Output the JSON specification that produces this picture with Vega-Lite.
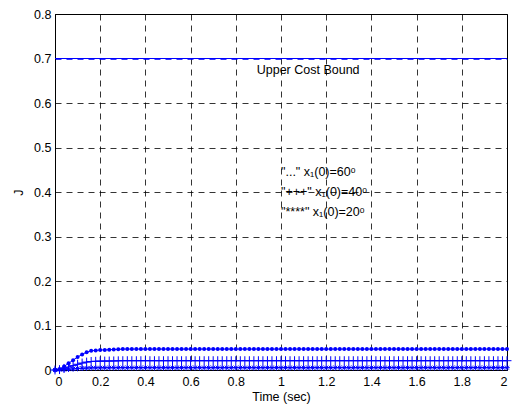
{
"$schema":"https://vega.github.io/schema/vega-lite/v6.json",
"width":452,"height":356,"autosize":"none",
"padding":{"left":55,"top":14,"right":5,"bottom":39},
"background":"white",
"config":{"view":{"stroke":"black","strokeWidth":1},
"axis":{"grid":true,"gridColor":"black","gridDash":[6,5],"gridOpacity":1,"gridWidth":0.8,"domainColor":"black","ticks":false,"labelFont":"Liberation Sans","labelFontSize":12.5,"labelColor":"black","titleFont":"Liberation Sans","titleFontSize":12.5,"titleFontWeight":"normal","titleColor":"black"}},
"datasets":{
"runs":[
{"t":0,"a":0,"b":0,"c":0},
{"t":0.02,"a":0.002,"b":0.0009,"c":0.0002},
{"t":0.04,"a":0.008,"b":0.0036,"c":0.0009},
{"t":0.06,"a":0.015,"b":0.0067,"c":0.0017},
{"t":0.08,"a":0.022,"b":0.0098,"c":0.0024},
{"t":0.1,"a":0.029,"b":0.0129,"c":0.0032},
{"t":0.12,"a":0.035,"b":0.0156,"c":0.0039},
{"t":0.14,"a":0.04,"b":0.0178,"c":0.0044},
{"t":0.16,"a":0.043,"b":0.0191,"c":0.0048},
{"t":0.18,"a":0.044,"b":0.0196,"c":0.0049},
{"t":0.2,"a":0.045,"b":0.02,"c":0.005},
{"t":0.22,"a":0.0452,"b":0.0201,"c":0.005},
{"t":0.24,"a":0.0455,"b":0.0202,"c":0.0051},
{"t":0.26,"a":0.046,"b":0.0204,"c":0.0051},
{"t":0.28,"a":0.0465,"b":0.0207,"c":0.0052},
{"t":0.3,"a":0.047,"b":0.0209,"c":0.0052},
{"t":0.32,"a":0.047,"b":0.0209,"c":0.0052},
{"t":0.34,"a":0.047,"b":0.0209,"c":0.0052},
{"t":0.36,"a":0.047,"b":0.0209,"c":0.0052},
{"t":0.38,"a":0.047,"b":0.0209,"c":0.0052},
{"t":0.4,"a":0.047,"b":0.0209,"c":0.0052},
{"t":0.42,"a":0.047,"b":0.0209,"c":0.0052},
{"t":0.44,"a":0.047,"b":0.0209,"c":0.0052},
{"t":0.46,"a":0.047,"b":0.0209,"c":0.0052},
{"t":0.48,"a":0.047,"b":0.0209,"c":0.0052},
{"t":0.5,"a":0.047,"b":0.0209,"c":0.0052},
{"t":0.52,"a":0.047,"b":0.0209,"c":0.0052},
{"t":0.54,"a":0.047,"b":0.0209,"c":0.0052},
{"t":0.56,"a":0.047,"b":0.0209,"c":0.0052},
{"t":0.58,"a":0.047,"b":0.0209,"c":0.0052},
{"t":0.6,"a":0.047,"b":0.0209,"c":0.0052},
{"t":0.62,"a":0.047,"b":0.0209,"c":0.0052},
{"t":0.64,"a":0.047,"b":0.0209,"c":0.0052},
{"t":0.66,"a":0.047,"b":0.0209,"c":0.0052},
{"t":0.68,"a":0.047,"b":0.0209,"c":0.0052},
{"t":0.7,"a":0.047,"b":0.0209,"c":0.0052},
{"t":0.72,"a":0.047,"b":0.0209,"c":0.0052},
{"t":0.74,"a":0.047,"b":0.0209,"c":0.0052},
{"t":0.76,"a":0.047,"b":0.0209,"c":0.0052},
{"t":0.78,"a":0.047,"b":0.0209,"c":0.0052},
{"t":0.8,"a":0.047,"b":0.0209,"c":0.0052},
{"t":0.82,"a":0.047,"b":0.0209,"c":0.0052},
{"t":0.84,"a":0.047,"b":0.0209,"c":0.0052},
{"t":0.86,"a":0.047,"b":0.0209,"c":0.0052},
{"t":0.88,"a":0.047,"b":0.0209,"c":0.0052},
{"t":0.9,"a":0.047,"b":0.0209,"c":0.0052},
{"t":0.92,"a":0.047,"b":0.0209,"c":0.0052},
{"t":0.94,"a":0.047,"b":0.0209,"c":0.0052},
{"t":0.96,"a":0.047,"b":0.0209,"c":0.0052},
{"t":0.98,"a":0.047,"b":0.0209,"c":0.0052},
{"t":1.0,"a":0.047,"b":0.0209,"c":0.0052},
{"t":1.02,"a":0.047,"b":0.0209,"c":0.0052},
{"t":1.04,"a":0.047,"b":0.0209,"c":0.0052},
{"t":1.06,"a":0.047,"b":0.0209,"c":0.0052},
{"t":1.08,"a":0.047,"b":0.0209,"c":0.0052},
{"t":1.1,"a":0.047,"b":0.0209,"c":0.0052},
{"t":1.12,"a":0.047,"b":0.0209,"c":0.0052},
{"t":1.14,"a":0.047,"b":0.0209,"c":0.0052},
{"t":1.16,"a":0.047,"b":0.0209,"c":0.0052},
{"t":1.18,"a":0.047,"b":0.0209,"c":0.0052},
{"t":1.2,"a":0.047,"b":0.0209,"c":0.0052},
{"t":1.22,"a":0.047,"b":0.0209,"c":0.0052},
{"t":1.24,"a":0.047,"b":0.0209,"c":0.0052},
{"t":1.26,"a":0.047,"b":0.0209,"c":0.0052},
{"t":1.28,"a":0.047,"b":0.0209,"c":0.0052},
{"t":1.3,"a":0.047,"b":0.0209,"c":0.0052},
{"t":1.32,"a":0.047,"b":0.0209,"c":0.0052},
{"t":1.34,"a":0.047,"b":0.0209,"c":0.0052},
{"t":1.36,"a":0.047,"b":0.0209,"c":0.0052},
{"t":1.38,"a":0.047,"b":0.0209,"c":0.0052},
{"t":1.4,"a":0.047,"b":0.0209,"c":0.0052},
{"t":1.42,"a":0.047,"b":0.0209,"c":0.0052},
{"t":1.44,"a":0.047,"b":0.0209,"c":0.0052},
{"t":1.46,"a":0.047,"b":0.0209,"c":0.0052},
{"t":1.48,"a":0.047,"b":0.0209,"c":0.0052},
{"t":1.5,"a":0.047,"b":0.0209,"c":0.0052},
{"t":1.52,"a":0.047,"b":0.0209,"c":0.0052},
{"t":1.54,"a":0.047,"b":0.0209,"c":0.0052},
{"t":1.56,"a":0.047,"b":0.0209,"c":0.0052},
{"t":1.58,"a":0.047,"b":0.0209,"c":0.0052},
{"t":1.6,"a":0.047,"b":0.0209,"c":0.0052},
{"t":1.62,"a":0.047,"b":0.0209,"c":0.0052},
{"t":1.64,"a":0.047,"b":0.0209,"c":0.0052},
{"t":1.66,"a":0.047,"b":0.0209,"c":0.0052},
{"t":1.68,"a":0.047,"b":0.0209,"c":0.0052},
{"t":1.7,"a":0.047,"b":0.0209,"c":0.0052},
{"t":1.72,"a":0.047,"b":0.0209,"c":0.0052},
{"t":1.74,"a":0.047,"b":0.0209,"c":0.0052},
{"t":1.76,"a":0.047,"b":0.0209,"c":0.0052},
{"t":1.78,"a":0.047,"b":0.0209,"c":0.0052},
{"t":1.8,"a":0.047,"b":0.0209,"c":0.0052},
{"t":1.82,"a":0.047,"b":0.0209,"c":0.0052},
{"t":1.84,"a":0.047,"b":0.0209,"c":0.0052},
{"t":1.86,"a":0.047,"b":0.0209,"c":0.0052},
{"t":1.88,"a":0.047,"b":0.0209,"c":0.0052},
{"t":1.9,"a":0.047,"b":0.0209,"c":0.0052},
{"t":1.92,"a":0.047,"b":0.0209,"c":0.0052},
{"t":1.94,"a":0.047,"b":0.0209,"c":0.0052},
{"t":1.96,"a":0.047,"b":0.0209,"c":0.0052},
{"t":1.98,"a":0.047,"b":0.0209,"c":0.0052},
{"t":2.0,"a":0.047,"b":0.0209,"c":0.0052}
],
"center":[{"t":1.12,"v":0.674,"s":"Upper Cost Bound"}],
"legend":[
{"t":1.0,"v":0.446,"s":"\"...\" x₁(0)=60ᵒ"},
{"t":1.0,"v":0.40,"s":"\"+++\" x₁(0)=40ᵒ"},
{"t":1.0,"v":0.356,"s":"\"****\" x₁(0)=20ᵒ"}
]},
"data":{"name":"runs"},
"encoding":{
"x":{"field":"t","type":"quantitative","scale":{"domain":[0,2],"nice":false},"axis":{"title":"Time (sec)","values":[0,0.2,0.4,0.6,0.8,1,1.2,1.4,1.6,1.8,2],"format":"~g","labelPadding":5,"titlePadding":3}}
},
"layer":[
{"mark":{"type":"rule","color":"#0000FF","strokeWidth":1},"encoding":{"y":{"datum":0.7,"type":"quantitative","scale":{"domain":[0,0.8],"nice":false},"axis":{"title":"J","values":[0,0.1,0.2,0.3,0.4,0.5,0.6,0.7,0.8],"format":"~g","labelPadding":4,"titlePadding":8,"gridColor":{"condition":{"test":"datum.value > 0.69 && datum.value < 0.71","value":"#0000FF"},"value":"black"}}},"x":null}},
{"mark":{"type":"line","color":"#0000FF","strokeWidth":1},"encoding":{"y":{"field":"a","type":"quantitative"}}},
{"mark":{"type":"point","shape":"circle","filled":true,"color":"#0000FF","size":16,"opacity":1},"encoding":{"y":{"field":"a","type":"quantitative"}}},
{"mark":{"type":"line","color":"#0000FF","strokeWidth":1},"encoding":{"y":{"field":"b","type":"quantitative"}}},
{"mark":{"type":"point","shape":"M-1,0L1,0M0,-1L0,1","filled":false,"color":"#0000FF","size":80,"strokeWidth":1,"opacity":1},"encoding":{"y":{"field":"b","type":"quantitative"}}},
{"mark":{"type":"line","color":"#0000FF","strokeWidth":1},"encoding":{"y":{"field":"c","type":"quantitative"}}},
{"mark":{"type":"point","shape":"M-1,0L1,0M0,-1L0,1M-0.7,-0.7L0.7,0.7M-0.7,0.7L0.7,-0.7","filled":false,"color":"#0000FF","size":30,"strokeWidth":1,"opacity":1},"encoding":{"y":{"field":"c","type":"quantitative"}}},
{"data":{"name":"center"},"mark":{"type":"text","align":"center","baseline":"middle","font":"Liberation Sans","fontSize":12.5,"color":"black"},"encoding":{"x":{"field":"t","type":"quantitative"},"y":{"field":"v","type":"quantitative"},"text":{"field":"s"}}},
{"data":{"name":"legend"},"mark":{"type":"text","align":"left","baseline":"middle","font":"Liberation Sans","fontSize":12.5,"color":"black"},"encoding":{"x":{"field":"t","type":"quantitative"},"y":{"field":"v","type":"quantitative"},"text":{"field":"s"}}}
]
}
